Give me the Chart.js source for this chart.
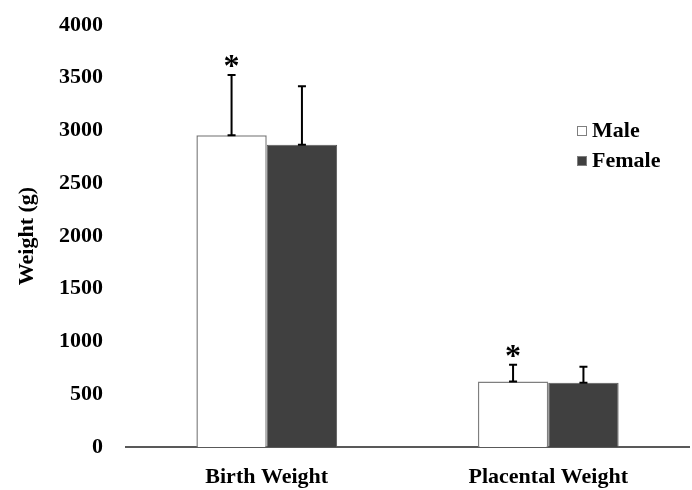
<!DOCTYPE html>
<html>
<head>
<meta charset="utf-8">
<script src="https://cdn.jsdelivr.net/npm/chart.js@4.4.0/dist/chart.umd.min.js"></script>
<style>
    html, body { margin: 0; padding: 0; background: #fff; }
    #chartArea { width: 692px; height: 490px; }
</style>
</head>
<body>
<div id="chartArea"><canvas id="weightChart"></canvas></div>
<script>
const categories = ['Birth Weight', 'Placental Weight'];
const maleMeans = [2955, 620];
const femaleMeans = [2865, 610];
const maleSD = [570, 160];
const femaleSD = [555, 150];
const maleMarks = ['*', '*'];
const yTicks = [0, 500, 1000, 1500, 2000, 2500, 3000, 3500, 4000];

const fontFamily = '"Liberation Serif", "Times New Roman", serif';

// error bars (upper only) + significance marks + legend
const extras = {
    id: 'extras',
    afterDatasetsDraw(chart) {
        let ctx = chart.ctx;
        let yScale = chart.scales.y;
        let sds = [maleSD, femaleSD];
        ctx.save();
        chart.data.datasets.forEach((ds, d) => {
            let meta = chart.getDatasetMeta(d);
            meta.data.forEach((bar, i) => {
                let top = yScale.getPixelForValue(ds.data[i] + sds[d][i]);
                let base = yScale.getPixelForValue(ds.data[i]);
                ctx.strokeStyle = '#000';
                ctx.lineWidth = 2;
                ctx.beginPath();
                ctx.moveTo(bar.x, base);
                ctx.lineTo(bar.x, top);
                ctx.moveTo(bar.x - 4, top);
                ctx.lineTo(bar.x + 4, top);
                ctx.moveTo(bar.x - 4, base);
                ctx.lineTo(bar.x + 4, base);
                ctx.stroke();
                if (d === 0 && maleMarks[i]) {
                    ctx.fillStyle = '#000';
                    ctx.font = 'bold 32px ' + fontFamily;
                    ctx.textAlign = 'center';
                    ctx.textBaseline = 'alphabetic';
                    ctx.fillText(maleMarks[i], bar.x, top + 1);
                }
            });
        });

        // legend
        let area = chart.chartArea;
        let lx = area.right - 112;
        let items = [
            { label: 'Male', fill: '#ffffff', y: 131 },
            { label: 'Female', fill: '#404040', y: 161 }
        ];
        ctx.font = 'bold 22px ' + fontFamily;
        ctx.textAlign = 'left';
        ctx.textBaseline = 'middle';
        items.forEach((it) => {
            ctx.fillStyle = it.fill;
            ctx.fillRect(lx, it.y - 5, 10, 10);
            ctx.strokeStyle = '#7f7f7f';
            ctx.lineWidth = 1;
            ctx.strokeRect(lx + 0.5, it.y - 4.5, 9, 9);
            ctx.fillStyle = '#000';
            ctx.fillText(it.label, lx + 15, it.y);
        });
        ctx.restore();
    }
};

let ctx = document.getElementById('weightChart').getContext('2d');
new Chart(ctx, {
    type: 'bar',
    data: {
        labels: categories,
        datasets: [
            {
                label: 'Male',
                data: maleMeans,
                backgroundColor: '#ffffff',
                borderColor: '#7f7f7f',
                borderWidth: 1.5
            },
            {
                label: 'Female',
                data: femaleMeans,
                backgroundColor: '#404040',
                borderColor: '#5a5a5a',
                borderWidth: 1
            }
        ]
    },
    options: {
        responsive: true,
        maintainAspectRatio: false,
        animation: false,
        categoryPercentage: 0.5,
        barPercentage: 1.0,
        layout: {
            padding: { top: 25, right: 3, left: 0, bottom: 0 }
        },
        plugins: {
            legend: { display: false },
            tooltip: { enabled: false }
        },
        scales: {
            x: {
                grid: { display: false },
                border: { display: true, color: '#595959', width: 2 },
                ticks: {
                    color: '#000',
                    padding: 9,
                    font: { family: fontFamily, size: 22, weight: 'bold' }
                },
                afterFit: (scale) => {
                    scale.height = 43;
                    scale.paddingLeft = 0;
                    scale.paddingRight = 0;
                }
            },
            y: {
                min: 0,
                max: 4000,
                grid: { display: false },
                border: { display: false },
                afterBuildTicks: (scale) => {
                    scale.ticks = yTicks.map((v) => ({ value: v }));
                },
                ticks: {
                    color: '#000',
                    padding: 15,
                    callback: (value) => String(value),
                    font: { family: fontFamily, size: 22, weight: 'bold' }
                },
                title: {
                    display: true,
                    text: 'Weight (g)',
                    color: '#000',
                    padding: { top: 14, bottom: 0 },
                    font: { family: fontFamily, size: 22, weight: 'bold' }
                },
                afterFit: (scale) => {
                    scale.width = 126;
                    scale.paddingTop = 0;
                    scale.paddingBottom = 0;
                }
            }
        }
    },
    plugins: [extras]
});
</script>
</body>
</html>
